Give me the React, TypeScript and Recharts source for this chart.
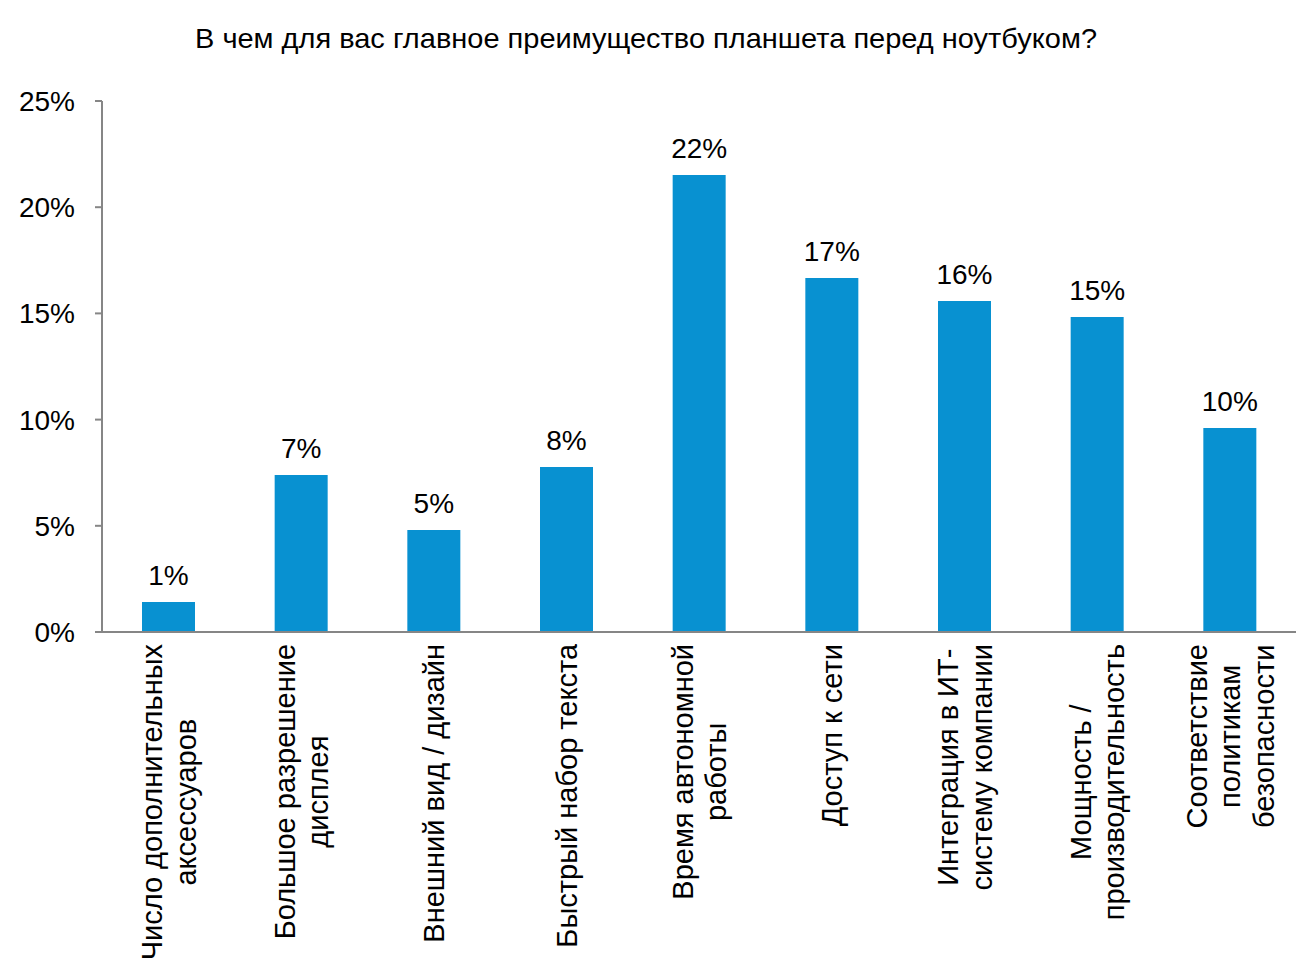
import React from "react";
import { BarChart, Bar, XAxis, YAxis, LabelList } from "recharts";

const title = "В чем для вас главное преимущество планшета перед ноутбуком?";

const categories = [
  "Число дополнительных\nаксессуаров",
  "Большое разрешение\nдисплея",
  "Внешний вид / дизайн",
  "Быстрый набор текста",
  "Время автономной\nработы",
  "Доступ к сети",
  "Интеграция в ИТ-\nсистему компании",
  "Мощность /\nпроизводительность",
  "Соответствие\nполитикам\nбезопасности",
];

const shares = [1.41, 7.39, 4.8, 7.77, 21.52, 16.67, 15.58, 14.83, 9.6];

const yTicks = [0, 5, 10, 15, 20, 25];

const data = categories.map((c, i) => ({ name: c, value: shares[i] }));

const FONT = "'Liberation Sans', Arial, sans-serif";
const AXIS = "#868686";
const BAR = "#0891d1";
const XFS = 29;

let ctx: CanvasRenderingContext2D | null = null;
const measure = (s: string) => {
  if (!ctx) {
    const c = document.createElement("canvas");
    ctx = c.getContext("2d");
  }
  if (!ctx) return s.length * XFS * 0.55;
  ctx.font = `${XFS}px 'Liberation Sans'`;
  return ctx.measureText(s).width;
};

const XTick = (props: any) => {
  const { x, y, payload } = props;
  const lines: string[] = String(payload.value).split("\n");
  const lh = 33.5;
  const b0 = 10.5 - ((lines.length - 1) * lh) / 2;
  const maxW = Math.max(...lines.map(measure));
  return (
    <g transform={`translate(${x},${y}) rotate(-90)`}>
      <text
        x={-maxW / 2}
        y={0}
        textAnchor="middle"
        fontSize={XFS}
        fontFamily={FONT}
        fill="#000"
      >
        {lines.map((l, i) => (
          <tspan key={i} x={-maxW / 2} y={b0 + i * lh}>
            {l}
          </tspan>
        ))}
      </text>
    </g>
  );
};

export default function App() {
  return (
    <div
      style={{
        position: "absolute",
        left: 0,
        top: 0,
        width: 1296,
        height: 980,
        background: "#fff",
      }}
    >
      <svg
        width={1296}
        height={80}
        style={{ position: "absolute", left: 0, top: 0 }}
      >
        <text
          x={646}
          y={48}
          textAnchor="middle"
          fontSize={28}
          fontFamily="'Liberation Sans Narrow', 'Liberation Sans', Arial, sans-serif"
          fill="#000"
          textLength={902}
          lengthAdjust="spacingAndGlyphs"
        >
          {title}
        </text>
      </svg>
      <div style={{ position: "absolute", left: 0, top: 0 }}>
        <BarChart
          width={1296}
          height={980}
          data={data}
          margin={{ top: 101, right: 0, bottom: 0, left: 0 }}
        >
          <XAxis
            dataKey="name"
            interval={0}
            height={348}
            tickSize={0}
            tickMargin={12}
            tickLine={false}
            axisLine={{ stroke: AXIS, strokeWidth: 2 }}
            tick={<XTick />}
          />
          <YAxis
            width={102}
            domain={[0, 25]}
            ticks={yTicks}
            interval={0}
            tickFormatter={(v: number) => `${v}%`}
            tickSize={7}
            tickMargin={20}
            tickLine={{ stroke: AXIS, strokeWidth: 2 }}
            axisLine={{ stroke: AXIS, strokeWidth: 2 }}
            tick={{ fontSize: 28, fontFamily: FONT, fill: "#000" }}
          />
          <Bar dataKey="value" fill={BAR} barSize={53} isAnimationActive={false}>
            <LabelList
              dataKey="value"
              position="top"
              offset={17}
              formatter={(v: any) => `${Math.round(Number(v))}%`}
              style={{ fontSize: 28, fontFamily: FONT, fill: "#000" }}
            />
          </Bar>
        </BarChart>
      </div>
    </div>
  );
}
